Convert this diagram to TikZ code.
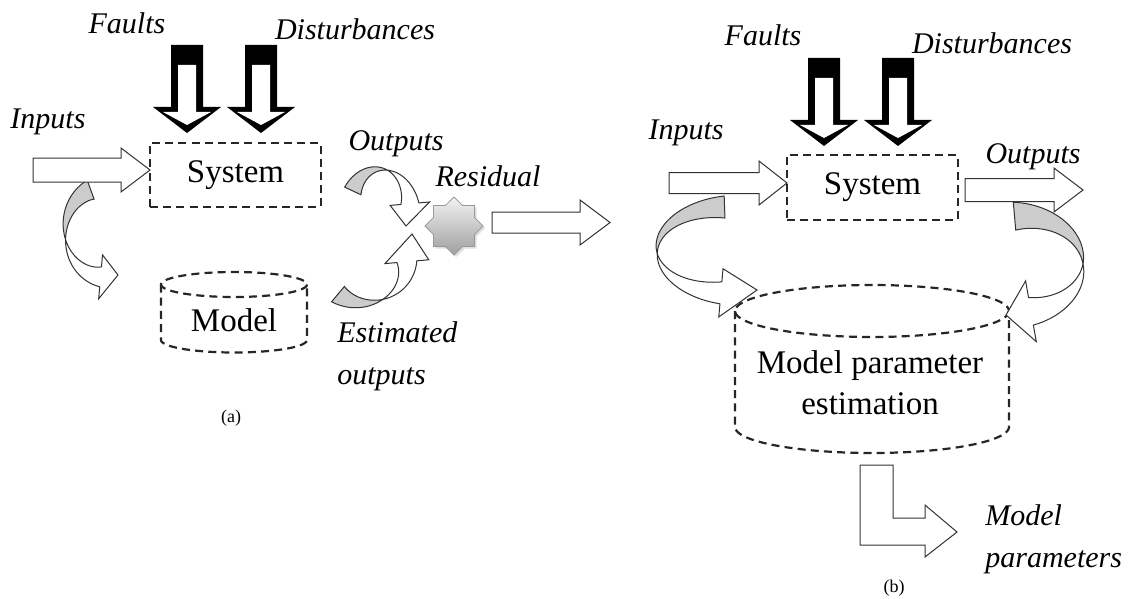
\documentclass[tikz,border=0pt]{standalone}
\usepackage{fontspec}
\setmainfont{Liberation Serif}
\usetikzlibrary{shapes.geometric,shadows}
\tikzset{
  flbl/.style={font=\fontsize{15}{21}\selectfont\itshape, inner sep=0pt, align=left},
  fdash/.style={draw=black!85, line width=1.1pt, dash pattern=on 4pt off 2.6pt},
  fbox/.style={fdash, font=\fontsize{16.5}{20.5}\selectfont, align=center},
  ftext/.style={font=\fontsize{16.5}{20.5}\selectfont, align=center, inner sep=0pt},
  fatarr/.style={draw=black!80, fill=white, line width=0.5pt},
  twback/.style={draw=black!80, fill=gray!40, line width=0.5pt, samples=30},
  twfront/.style={draw=black!80, fill=white, line width=0.5pt, samples=30},
  fcap/.style={font=\fontsize{9}{11}\selectfont}
}
% straight block arrow: x0, x tip, y, shaft half, head half, head length
\newcommand{\fatarrow}[6]{%
  \draw[fatarr] (#1,#3-#4) -- (#2-#6,#3-#4) -- (#2-#6,#3-#5) -- (#2,#3)
    -- (#2-#6,#3+#5) -- (#2-#6,#3+#4) -- (#1,#3+#4) -- cycle;}
% fault / disturbance arrow: centre x, top y
\newcommand{\faultarrow}[2]{%
  \fill[black] (#1-16,#2) -- (#1+16,#2) -- (#1+16,#2+62) -- (#1+34,#2+62)
    -- (#1,#2+88) -- (#1-34,#2+62) -- (#1-16,#2+62) -- cycle;
  \fill[white] (#1-9,#2+20) -- (#1+9,#2+20) -- (#1+9,#2+67) -- (#1+24,#2+67)
    -- (#1,#2+80) -- (#1-24,#2+67) -- (#1-9,#2+67) -- cycle;}
% dashed drum: cx, top centre y, bottom centre y, rx, ry
\newcommand{\drum}[5]{%
  \draw[fdash] plot[domain=0:360, samples=72] ({#1+#4*cos(\x)},{#2+#5*sin(\x)}) -- cycle;
  \draw[fdash] (#1-#4,#2) -- plot[domain=180:0, samples=40] ({#1+#4*cos(\x)},{#3+#5*sin(\x)}) -- (#1+#4,#2);}
% twisted curved arrow: cx, cy, rx, ry, start, twist, head angle, tip, half width
\newcommand{\twistarrow}[9]{%
  \filldraw[twback] plot[domain=#5:#6]
      ({#1+(#3+(#9)*((#6)-(\x))/((#6)-(#5)))*cos(\x)},{#2+(#4+(#9)*((#6)-(\x))/((#6)-(#5)))*sin(\x)})
    -- plot[domain=#6:#5]
      ({#1+(#3-(#9)*((#6)-(\x))/((#6)-(#5)))*cos(\x)},{#2+(#4-(#9)*((#6)-(\x))/((#6)-(#5)))*sin(\x)})
    -- cycle;
  \filldraw[twfront] plot[domain=#6:#7]
      ({#1+(#3+(#9)*((\x)-(#6))/((#7)-(#6)))*cos(\x)},{#2+(#4+(#9)*((\x)-(#6))/((#7)-(#6)))*sin(\x)})
    -- ({#1+(#3+2.2*(#9))*cos(#7)},{#2+(#4+2.2*(#9))*sin(#7)}) -- #8
    -- ({#1+(#3-2.2*(#9))*cos(#7)},{#2+(#4-2.2*(#9))*sin(#7)})
    -- plot[domain=#7:#6]
      ({#1+(#3-(#9)*((\x)-(#6))/((#7)-(#6)))*cos(\x)},{#2+(#4-(#9)*((\x)-(#6))/((#7)-(#6)))*sin(\x)})
    -- cycle;}

\begin{document}
\begin{tikzpicture}[x=0.5pt, y=-0.5pt]
  \useasboundingbox (0,0) rectangle (1129,599);
  % (a)
  \node[fbox, minimum width=85.5pt, minimum height=32pt] (sysA) at (235.5,175) {System};
  \drum{234}{284.5}{340}{73}{12.5}
  \node[ftext] (modA) at (234,320) {Model};
  \twistarrow{104}{232}{39}{45}{250}{170}{95}{(118,275)}{10}
  \twistarrow{380}{207}{30}{38}{205}{285}{355}{(406,226)}{9}
  \twistarrow{365}{265}{42}{38}{130}{65}{-5}{(412,234)}{10}
  \fatarrow{33}{150}{170}{12}{22}{29}
  \faultarrow{187}{45}
  \faultarrow{261}{45}
  \node[star, star points=8, star point ratio=1.3, minimum size=29pt, inner sep=0pt,
    draw=gray!80, top color=gray!10, bottom color=gray!75,
    drop shadow={opacity=0.25, shadow xshift=1pt, shadow yshift=-1pt}] (res) at (454,226) {};
  \fatarrow{492}{610}{222.5}{10.5}{22.5}{30}
  \node[flbl] (fltA) at (127,23) {Faults};
  \node[flbl] (dstA) at (355,29) {Disturbances};
  \node[flbl] (inA) at (48,122) {Inputs};
  \node[flbl] (outA) at (396,144) {Outputs};
  \node[flbl] (resl) at (488,176) {Residual};
  \node[flbl, anchor=west] (estA) at (337,356) {Estimated\\outputs};
  \node[fcap] (capA) at (231,418) {(a)};
  % (b)
  \node[fbox, minimum width=85.5pt, minimum height=32.5pt] (sysB) at (872.5,187.5) {System};
  \drum{872}{311}{427}{137}{26}
  \node[ftext] (estB) at (870,383) {Model parameter\\estimation};
  \twistarrow{727}{250}{70}{43}{268}{175}{95}{(757,290)}{11}
  \twistarrow{1020}{264}{63}{48}{265}{360}{440}{(1006,315)}{14}
  \fatarrow{669}{787}{183}{10.5}{22}{28}
  \fatarrow{965}{1083}{190}{11.5}{22}{29}
  \faultarrow{824}{58}
  \faultarrow{898}{58}
  \draw[fatarr] (860,465) -- (893,465) -- (893,518) -- (925,518) -- (925,505)
    -- (957,532) -- (925,557) -- (925,545) -- (860,545) -- cycle;
  \node[flbl] (fltB) at (763,35) {Faults};
  \node[flbl] (dstB) at (992,43) {Disturbances};
  \node[flbl] (inB) at (686,133) {Inputs};
  \node[flbl] (outB) at (1033,157) {Outputs};
  \node[flbl, anchor=west] (parB) at (985,539) {Model\\parameters};
  \node[fcap] (capB) at (894,588) {(b)};
\end{tikzpicture}
\end{document}
